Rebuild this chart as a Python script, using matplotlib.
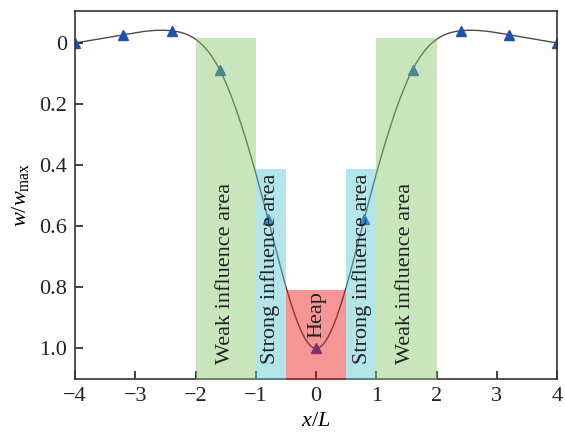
import matplotlib.pyplot as plt
import numpy as np

plt.rcParams['font.family'] = ['Liberation Serif', 'DejaVu Serif']
plt.rcParams['mathtext.fontset'] = 'custom'
plt.rcParams['mathtext.rm'] = 'Liberation Serif'
plt.rcParams['mathtext.it'] = 'Liberation Serif:italic'

# measured settlement profile (normalised)
x_pts = [-4, -3.2, -2.4, -1.6, -0.8, 0, 0.8, 1.6, 2.4, 3.2, 4]
w_pts = [0.0, -0.027, -0.04, 0.088, 0.575, 1.0, 0.575, 0.088, -0.04, -0.027, 0.0]

# zones: (x0, x1, top of shaded box, colour, label, label x)
zone_x0 = [-2, -1, -0.5, 0.5, 1]
zone_x1 = [-1, -0.5, 0.5, 1, 2]
zone_top = [-0.015, 0.413, 0.81, 0.413, -0.015]
zone_col = ['#87c76a', '#57c6d0', '#e71616', '#57c6d0', '#87c76a']
zone_lab = ['Weak influence area', 'Strong influence area', 'Heap',
            'Strong influence area', 'Weak influence area']
zone_lab_x = [-1.51, -0.76, 0.02, 0.76, 1.49]
zone_lab_y = [1.05, 1.05, 0.965, 1.05, 1.05]


def natural_spline(x, y, xs):
    x = np.asarray(x, float)
    y = np.asarray(y, float)
    n = len(x)
    h = np.diff(x)
    A = np.zeros((n, n))
    b = np.zeros(n)
    A[0, 0] = A[-1, -1] = 1
    for i in range(1, n - 1):
        A[i, i - 1] = h[i - 1]
        A[i, i] = 2 * (h[i - 1] + h[i])
        A[i, i + 1] = h[i]
        b[i] = 6 * ((y[i + 1] - y[i]) / h[i] - (y[i] - y[i - 1]) / h[i - 1])
    M = np.linalg.solve(A, b)
    k = np.clip(np.searchsorted(x, xs) - 1, 0, n - 2)
    t0 = xs - x[k]
    t1 = x[k + 1] - xs
    hk = h[k]
    return (M[k] * t1**3 / (6 * hk) + M[k + 1] * t0**3 / (6 * hk)
            + (y[k] / hk - M[k] * hk / 6) * t1
            + (y[k + 1] / hk - M[k + 1] * hk / 6) * t0)


fig = plt.figure(figsize=(5.65, 4.37), dpi=100)
ax = fig.add_axes([0.133, 0.133, 0.853, 0.842])

xs = np.linspace(-4, 4, 400)
ax.plot(xs, natural_spline(x_pts, w_pts, xs), color='#4a4a4a', lw=1.0, zorder=1)
ax.plot(x_pts, w_pts, '^', color='#1f4fb0', ms=7, mec='#1f4fb0', zorder=2)

for x0, x1, top, c, lab, lx, ly in zip(zone_x0, zone_x1, zone_top, zone_col,
                                       zone_lab, zone_lab_x, zone_lab_y):
    ax.fill_between([x0, x1], top, 1.2, color=c, alpha=0.45, lw=0, zorder=3)
    ax.text(lx, ly, lab, rotation=90, ha='center', va='bottom',
            fontsize=16, color='#222222', zorder=4)

ax.set_xlim(-4, 4)
ax.set_ylim(1.1, -0.105)
ax.set_xticks(range(-4, 5))
ax.set_yticks([0, 0.2, 0.4, 0.6, 0.8, 1.0])
ax.set_yticklabels(['0', '0.2', '0.4', '0.6', '0.8', '1.0'])
ax.tick_params(direction='in', length=6, width=1.2, labelsize=16,
               colors='#222222', pad=6)
for s in ax.spines.values():
    s.set_linewidth(1.2)
    s.set_color('#333333')

ax.set_xlabel(r'$x/L$', fontsize=16, labelpad=4)
ax.set_ylabel(r'$w/w_{\mathrm{max}}$', fontsize=16, labelpad=6)

fig.savefig('out.png', dpi=100)
